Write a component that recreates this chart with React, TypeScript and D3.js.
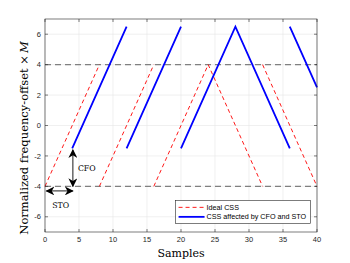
import * as d3 from "d3";
import React from "react";

const width = 350;
const height = 263;
const margin = { top: 19, right: 33, bottom: 31, left: 45 };

// chirp samples, NaN breaks a segment
const idealX = [0, 8, NaN, 8, 16, NaN, 16, 24, 32, NaN, 32, 40];
const idealY = [-4, 4, NaN, -4, 4, NaN, -4, 4, -4, NaN, 4, -4];
const shiftedX = [4, 12, NaN, 12, 20, NaN, 20, 28, 36, NaN, 36, 40];
const shiftedY = [-1.5, 6.5, NaN, -1.5, 6.5, NaN, -1.5, 6.5, -1.5, NaN, 6.5, 2.5];
const refLevels = [4, -4];
const xTicks = [0, 5, 10, 15, 20, 25, 30, 35, 40];
const yTicks = [-6, -4, -2, 0, 2, 4, 6];
const legendLabels = ["Ideal CSS", "CSS affected by CFO and STO"];

const App = () => {
  const x = d3.scaleLinear().domain([0, 40]).range([margin.left, width - margin.right]);
  const y = d3.scaleLinear().domain([-7, 7]).range([height - margin.bottom, margin.top]);

  const toPts = (xs: number[], ys: number[]) => xs.map((v, i) => [v, ys[i]] as [number, number]);
  const line = d3
    .line<[number, number]>()
    .defined((d) => !isNaN(d[0]))
    .x((d) => x(d[0]))
    .y((d) => y(d[1]));

  const x0 = margin.left;
  const x1 = width - margin.right;
  const y0 = height - margin.bottom;
  const y1 = margin.top;
  const tickFont = "'Liberation Sans', Arial, sans-serif";
  const serif = "'DejaVu Serif', 'Liberation Serif', serif";

  // annotation positions in data units
  const cfoX = 4.1;
  const stoY = -4.3;

  return (
    <svg width={width} height={height} style={{ position: "absolute", left: 0, top: 0 }}>
      <defs>
        <marker id="ah" viewBox="0 0 10 10" refX="9" refY="5" markerWidth="9" markerHeight="9" markerUnits="userSpaceOnUse" orient="auto-start-reverse">
          <path d="M0,0 L10,5 L0,10 L3,5 z" fill="#000" />
        </marker>
      </defs>
      <rect x={0} y={0} width={width} height={height} fill="#fff" />
      {/* grid */}
      {xTicks.map((t) => (
        <line key={"gx" + t} x1={x(t)} x2={x(t)} y1={y0} y2={y1} stroke="#e6e6e6" strokeWidth={0.6} />
      ))}
      {yTicks.map((t) => (
        <line key={"gy" + t} x1={x0} x2={x1} y1={y(t)} y2={y(t)} stroke="#e6e6e6" strokeWidth={0.6} />
      ))}
      {/* reference levels */}
      {refLevels.map((v) => (
        <line key={"r" + v} x1={x0} x2={x1} y1={y(v)} y2={y(v)} stroke="#808080" strokeWidth={1.2} strokeDasharray="6,4" />
      ))}
      <path d={line(toPts(idealX, idealY)) || ""} fill="none" stroke="#ff0000" strokeWidth={0.9} strokeDasharray="4,3" />
      <path d={line(toPts(shiftedX, shiftedY)) || ""} fill="none" stroke="#0000ff" strokeWidth={1.8} />
      {/* annotations */}
      <line x1={x(cfoX)} x2={x(cfoX)} y1={y(-1.6)} y2={y(-4)} stroke="#000" strokeWidth={0.9} markerStart="url(#ah)" markerEnd="url(#ah)" />
      <text x={x(cfoX) + 5} y={y(-2.8) + 3} fontFamily={serif} fontSize={7.8}>CFO</text>
      <line x1={x(0.2)} x2={x(4.1)} y1={y(stoY)} y2={y(stoY)} stroke="#000" strokeWidth={0.9} markerStart="url(#ah)" markerEnd="url(#ah)" />
      <text x={x(2.3)} y={y(-5.2) + 3} fontFamily={serif} fontSize={7.8} textAnchor="middle">STO</text>
      {/* box + ticks */}
      <rect x={x0} y={y1} width={x1 - x0} height={y0 - y1} fill="none" stroke="#262626" strokeWidth={0.6} />
      {xTicks.map((t) => (
        <g key={"tx" + t}>
          <line x1={x(t)} x2={x(t)} y1={y0} y2={y0 - 3} stroke="#262626" strokeWidth={0.6} />
          <line x1={x(t)} x2={x(t)} y1={y1} y2={y1 + 3} stroke="#262626" strokeWidth={0.6} />
          <text x={x(t)} y={y0 + 10} textAnchor="middle" fontFamily={tickFont} fontSize={7.5} fill="#262626">{t}</text>
        </g>
      ))}
      {yTicks.map((t) => (
        <g key={"ty" + t}>
          <line x1={x0} x2={x0 + 3} y1={y(t)} y2={y(t)} stroke="#262626" strokeWidth={0.6} />
          <line x1={x1} x2={x1 - 3} y1={y(t)} y2={y(t)} stroke="#262626" strokeWidth={0.6} />
          <text x={x0 - 4} y={y(t) + 2.7} textAnchor="end" fontFamily={tickFont} fontSize={7.5} fill="#262626">{t}</text>
        </g>
      ))}
      {/* axis labels */}
      <text x={(x0 + x1) / 2} y={height - 6} textAnchor="middle" fontFamily={serif} fontSize={11}>Samples</text>
      <text transform={`translate(28, 138) rotate(-90)`} textAnchor="middle" fontFamily={serif} fontSize={11.5}>
        Normalized frequency-offset ×<tspan dx={2} fontStyle="italic">M</tspan>
      </text>
      {/* legend */}
      <g transform={`translate(${x(19.2)}, ${y(-4.92)})`}>
        <rect x={0} y={0} width={135} height={23} fill="#fff" stroke="#262626" strokeWidth={0.6} />
        <line x1={3} x2={29} y1={7} y2={7} stroke="#ff0000" strokeWidth={0.9} strokeDasharray="4,3" />
        <line x1={3} x2={29} y1={16.5} y2={16.5} stroke="#0000ff" strokeWidth={1.8} />
        {legendLabels.map((l, i) => (
          <text key={l} x={31} y={9.6 + i * 9.5} fontFamily={tickFont} fontSize={7.2} fill="#000">{l}</text>
        ))}
      </g>
    </svg>
  );
};

export default App;
